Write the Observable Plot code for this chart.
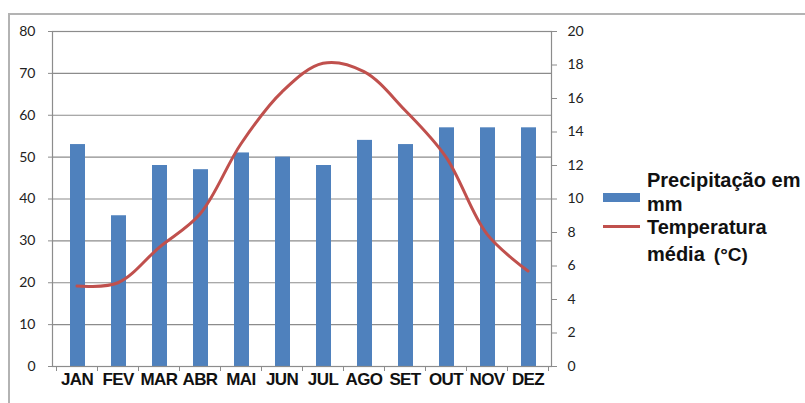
<!DOCTYPE html>
<html>
<head>
<meta charset="utf-8">
<script src="https://cdn.jsdelivr.net/npm/d3@7"></script>
<script src="https://cdn.jsdelivr.net/npm/@observablehq/plot@0.6"></script>
<style>
  html, body { margin: 0; padding: 0; background: #fff; }
  #wrap { position: relative; width: 805px; height: 403px; overflow: hidden; }
  #wrap svg { position: absolute; left: 0; top: 0; }
  #border { position: absolute; left: 8px; top: 13px; right: -5px; bottom: -5px;
            border-top: 2px solid #b3b3b3; border-left: 2px solid #b3b3b3; pointer-events: none; }
  #legend { position: absolute; left: 603px; top: 168px; font-family: "Liberation Sans", Arial, sans-serif;
            font-weight: bold; font-size: 20px; color: #111; line-height: 24px; white-space: nowrap; }
  .item { position: relative; padding-left: 44px; }
  .sw { position: absolute; left: 0; width: 37px; }
  .sw.bar { top: 25px; height: 9px; background: #4f81bd; }
  .sw.line { top: 10px; height: 3px; background: #c0504d; }
  .item.t { margin-top: -1px; }
  .l4 { display: block; margin-top: 3px; }
  .deg { font-size: 19px; margin-left: 9px; }
  .xlab text { letter-spacing: -0.6px; }
</style>
</head>
<body>
<div id="wrap">
  <div id="border"></div>
</div>
<script>
const months = ["JAN","FEV","MAR","ABR","MAI","JUN","JUL","AGO","SET","OUT","NOV","DEZ"];
const precipitacao = [53, 36, 48, 47, 51, 50, 48, 54, 53, 57, 57, 57];
const temperatura = [4.8, 5.0, 7.1, 9.1, 13.3, 16.4, 18.1, 17.6, 15.3, 12.5, 7.9, 5.7];
const leftTicks = [0, 10, 20, 30, 40, 50, 60, 70, 80];
const rightTicks = [0, 2, 4, 6, 8, 10, 12, 14, 16, 18, 20];
const leftMax = 80;
const rightMax = 20;

const k = leftMax / rightMax;
const data = months.map((m, i) => ({month: m, precip: precipitacao[i], temp: temperatura[i]}));

const grid = "#8c8c8c";
const numFont = "Lato, 'Open Sans', sans-serif";

const boundaryTicks = (index, scales, values, dims) => {
  const x = scales.x, bw = x.bandwidth();
  const y0 = dims.height - dims.marginBottom;
  const xs = months.map(m => x(m)).concat([x(months[months.length - 1]) + bw]);
  const g = d3.create("svg:g").attr("stroke", grid).attr("stroke-width", 1);
  g.selectAll("line").data(xs).join("line")
    .attr("x1", d => d + 0.5).attr("x2", d => d + 0.5)
    .attr("y1", y0).attr("y2", y0 + 5);
  return g.node();
};

const chart = Plot.plot({
  width: 805,
  height: 403,
  marginLeft: 52,
  marginRight: 254,
  marginTop: 31,
  marginBottom: 37,
  style: {background: "transparent", overflow: "visible"},
  x: {type: "band", domain: months, padding: 0, label: null},
  y: {domain: [0, leftMax], label: null},
  marks: [
    Plot.gridY(leftTicks, {stroke: grid, strokeOpacity: 1, strokeWidth: 1.2}),
    Plot.barY(data, {x: "month", y: "precip", fill: "#4f81bd", insetLeft: 14, insetRight: 12}),
    Plot.frame({stroke: grid, strokeWidth: 1.2}),
    Plot.line(data, {x: "month", y: d => d.temp * k, stroke: "#c0504d", strokeWidth: 3, curve: "catmull-rom"}),
    Plot.axisY(leftTicks, {anchor: "left", tickSize: 4, tickPadding: 13, stroke: grid, fill: "#222",
      fontSize: 14, fontFamily: numFont, label: null}),
    Plot.axisY(rightTicks.map(t => t * k), {anchor: "right", tickSize: 5, tickPadding: 11, stroke: grid, fill: "#222",
      tickFormat: d => d / k, fontSize: 14, fontFamily: numFont, label: null}),
    Plot.axisX({tickSize: 0, tickPadding: 6, fill: "#111", fontSize: 17, fontWeight: "bold",
      fontFamily: "'Liberation Sans', Arial, sans-serif", label: null, className: "xlab"}),
    boundaryTicks
  ]
});

const wrap = document.getElementById("wrap");
wrap.insertBefore(chart, wrap.firstChild);
const xl = chart.querySelector('g[aria-label="x-axis tick label"]');
if (xl) xl.classList.add("xlab");

const legend = document.createElement("div");
legend.id = "legend";
legend.innerHTML = `
  <div class="item"><span class="sw bar"></span>Precipitação em<br>mm</div>
  <div class="item t"><span class="sw line"></span>Temperatura<span class="l4">média<span class="deg">(°C)</span></span></div>`;
wrap.appendChild(legend);
</script>
</body>
</html>
